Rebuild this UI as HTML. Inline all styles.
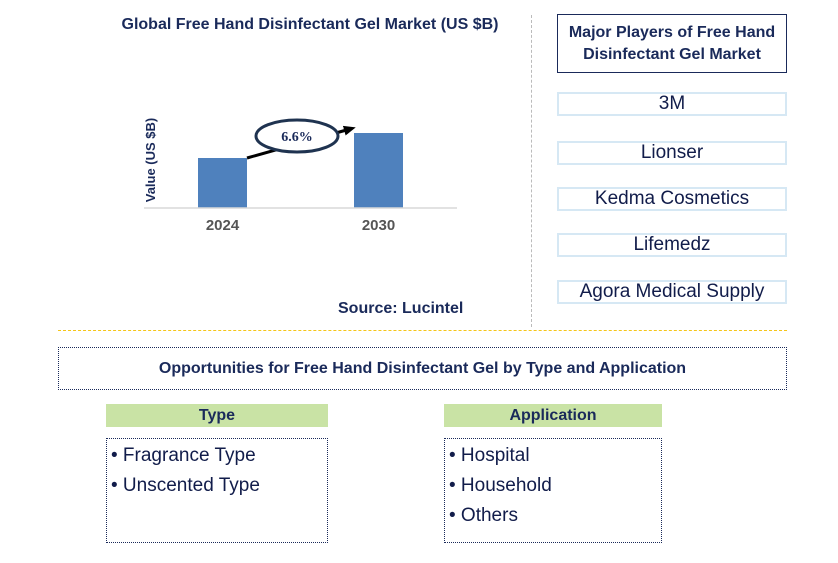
<!DOCTYPE html>
<html><head><meta charset="utf-8"><style>
body{margin:0;width:838px;height:563px;background:#fff;position:relative;font-family:"Liberation Sans",sans-serif;overflow:hidden}
.a{position:absolute;box-sizing:border-box}
.title{left:60px;top:16px;width:500px;text-align:center;font-weight:bold;font-size:16px;color:#1a2a5a}
.pl{left:557px;width:230px;height:24px;border:2px solid #d6e8f4;text-align:center;font-size:19px;color:#111c4a;line-height:20px}
.hd{background:#c9e3a5;text-align:center;font-weight:bold;font-size:16px;color:#1a2a5a;line-height:23px;height:23px;width:222px;top:404px}
.lst{top:438px;width:222px;height:105px;border:1px dotted #1a2a5a;padding:2px 0 0 4px;font-size:19px;color:#111c4a;line-height:30px}
</style></head><body>
<div class="a title">Global Free Hand Disinfectant Gel Market (US $B)</div>
<svg class="a" style="left:0;top:0" width="540" height="330">
<defs><marker id="ah" markerUnits="userSpaceOnUse" markerWidth="12" markerHeight="12" refX="6" refY="6" orient="auto"><path d="M0,1 L12,6 L0,11z" fill="#000"/></marker></defs>
<g id="g"></g>
<text transform="translate(155,160) rotate(-90)" text-anchor="middle" font-weight="bold" font-size="13" fill="#1a2a5a" font-family="Liberation Sans">Value (US $B)</text>
</svg>
<script>
const categories=["2024","2030"];
const values=[2.0,3.0];
const cagr="6.6%";
const svg=document.getElementById('g');const NS="http://www.w3.org/2000/svg";
const base=208,scale=25;
const x=i=>198+i*156, y=v=>base-v*scale;
function mk(t,a){const e=document.createElementNS(NS,t);for(const k in a)e.setAttribute(k,a[k]);svg.appendChild(e);return e;}
categories.forEach((c,i)=>{
 const r=mk('rect',{x:x(i),y:y(values[i]),width:49,height:base-y(values[i]),fill:'#4f81bd'});
 
 
 const t=mk('text',{x:x(i)+24.5,y:230,'text-anchor':'middle','font-size':15,'font-weight':'bold',fill:'#555','font-family':'Liberation Sans'});t.textContent=c;
 
 
});
const ax=mk('line',{x1:144,x2:457,y1:base,y2:base,stroke:'#d9d9d9','stroke-width':1.5});


const ar=mk('line',{x1:x(0)+49,y1:y(values[0]),x2:x(1)-4,y2:y(values[1])-4,stroke:'#000','stroke-width':3,'marker-end':'url(#ah)'});


const el=mk('ellipse',{cx:297,cy:136,rx:41,ry:16,fill:'#fff',stroke:'#1f3350','stroke-width':3});


const ct=mk('text',{x:297,y:141,'text-anchor':'middle','font-size':14,'font-weight':'bold',fill:'#1a2a5a','font-family':'Liberation Serif'});ct.textContent=cagr;


</script>
<div class="a" style="left:338px;top:300px;font-weight:bold;font-size:16px;color:#1a2a5a">Source: Lucintel</div>
<div class="a" style="left:531px;top:15px;height:312px;border-left:1px dashed #bbb"></div>
<div class="a" style="left:557px;top:14px;width:230px;height:59px;border:1.5px solid #1a2a5a;text-align:center;font-weight:bold;font-size:16px;color:#1a2a5a;padding-top:7px;line-height:22px">Major Players of Free Hand<br>Disinfectant Gel Market</div>
<div class="a pl" style="top:92px">3M</div>
<div class="a pl" style="top:141px">Lionser</div>
<div class="a pl" style="top:187px">Kedma Cosmetics</div>
<div class="a pl" style="top:233px">Lifemedz</div>
<div class="a pl" style="top:280px">Agora Medical Supply</div>
<div class="a" style="left:58px;top:330px;width:729px;border-top:1.5px dashed #f5c518"></div>
<div class="a" style="left:58px;top:347px;width:729px;height:43px;border:1px dotted #1a2a5a;text-align:center;font-weight:bold;font-size:16px;color:#1a2a5a;line-height:41px">Opportunities for Free Hand Disinfectant Gel by Type and Application</div>
<div class="a hd" style="left:106px">Type</div>
<div class="a lst" style="left:106px">• Fragrance Type<br>• Unscented Type</div>
<div class="a hd" style="left:444px;width:218px">Application</div>
<div class="a lst" style="left:444px;width:218px">• Hospital<br>• Household<br>• Others</div>
</body></html>
